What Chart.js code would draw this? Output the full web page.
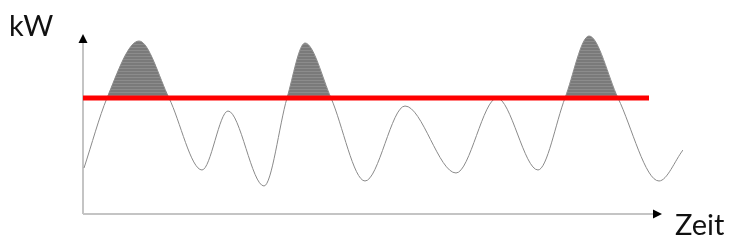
<!DOCTYPE html>
<html lang="de">
<head>
    <meta charset="UTF-8">
    <title>Lastspitzen</title>
    <script src="https://cdn.jsdelivr.net/npm/chart.js"></script>
    <style>
        html, body { margin: 0; padding: 0; background: #fff; }
        #wrap { width: 747px; height: 252px; }
    </style>
</head>
<body>
    <div id="wrap"><canvas id="loadChart" width="747" height="252"></canvas></div>
    <script>
        // Lastkurve (Zeit / kW)
        const timePoints = [1, 24, 56, 86, 119, 145, 181, 204, 222, 248, 282, 322, 373, 414, 455, 482, 506, 535, 576, 600];
        const loadValues = [46, 116, 173, 116, 44, 103, 28, 116, 171, 116, 33, 108, 41, 116, 44, 116, 178, 116, 33, 64];

        // Grenzwert (rote Linie)
        const limitValue = 116;
        const limitSpan = [0, 566];

        // Achsenenden (Pfeilspitzen)
        const xAxisEnd = 579;
        const yAxisEnd = 180;

        const yLabel = 'kW';
        const xLabel = 'Zeit';

        // striped gray fill for the peaks
        function stripePattern() {
            const c = document.createElement('canvas');
            c.width = 4;
            c.height = 3;
            const p = c.getContext('2d');
            p.fillStyle = '#7a7a7a';
            p.fillRect(0, 0, 4, 3);
            p.fillStyle = '#8c8c8c';
            p.fillRect(0, 2, 4, 1);
            return p.createPattern(c, 'repeat');
        }

        // axes with arrows + labels
        const arrowAxes = {
            id: 'arrowAxes',
            beforeDatasetsDraw(chart) {
                const ctx = chart.ctx;
                const xs = chart.scales.x;
                const ys = chart.scales.y;
                const x0 = xs.getPixelForValue(0);
                const y0 = ys.getPixelForValue(0);
                const xEnd = xs.getPixelForValue(xAxisEnd);
                const yEnd = ys.getPixelForValue(yAxisEnd);

                ctx.save();
                ctx.strokeStyle = '#c4c4c4';
                ctx.lineWidth = 2;
                ctx.beginPath();
                ctx.moveTo(x0, y0);
                ctx.lineTo(x0, yEnd + 8);
                ctx.moveTo(x0, y0);
                ctx.lineTo(xEnd - 8, y0);
                ctx.stroke();

                ctx.fillStyle = '#000';
                ctx.beginPath();
                ctx.moveTo(x0, yEnd);
                ctx.lineTo(x0 - 4.5, yEnd + 9);
                ctx.lineTo(x0 + 4.5, yEnd + 9);
                ctx.closePath();
                ctx.fill();
                ctx.beginPath();
                ctx.moveTo(xEnd, y0);
                ctx.lineTo(xEnd - 9, y0 - 4.5);
                ctx.lineTo(xEnd - 9, y0 + 4.5);
                ctx.closePath();
                ctx.fill();

                ctx.fillStyle = '#111';
                ctx.font = '29px Lato, "Open Sans", sans-serif';
                ctx.textBaseline = 'alphabetic';
                ctx.textAlign = 'left';
                ctx.fillText(yLabel, x0 - 74, yEnd + 2);
                ctx.fillText(xLabel, xEnd + 13, y0 + 21);
                ctx.restore();
            }
        };

        const ctx = document.getElementById('loadChart').getContext('2d');

        const chart = new Chart(ctx, {
            type: 'line',
            data: {
                datasets: [{
                    label: 'Grenzwert',
                    data: limitSpan.map(x => ({ x: x, y: limitValue })),
                    borderColor: '#ff0000',
                    borderWidth: 5,
                    pointRadius: 0,
                    fill: false
                }, {
                    label: 'Last',
                    data: timePoints.map((t, i) => ({ x: t, y: loadValues[i] })),
                    borderColor: '#8a8a8a',
                    borderWidth: 1,
                    pointRadius: 0,
                    cubicInterpolationMode: 'monotone',
                    fill: {
                        target: { value: limitValue },
                        above: stripePattern(),
                        below: 'rgba(0,0,0,0)'
                    }
                }]
            },
            options: {
                responsive: false,
                animation: false,
                layout: {
                    padding: { left: 83, right: 64, top: 30, bottom: 38 }
                },
                plugins: {
                    legend: { display: false },
                    tooltip: { enabled: false }
                },
                scales: {
                    x: { type: 'linear', display: false, min: 0, max: 600 },
                    y: { display: false, min: 0, max: 184 }
                }
            },
            plugins: [arrowAxes]
        });
    </script>
</body>
</html>
